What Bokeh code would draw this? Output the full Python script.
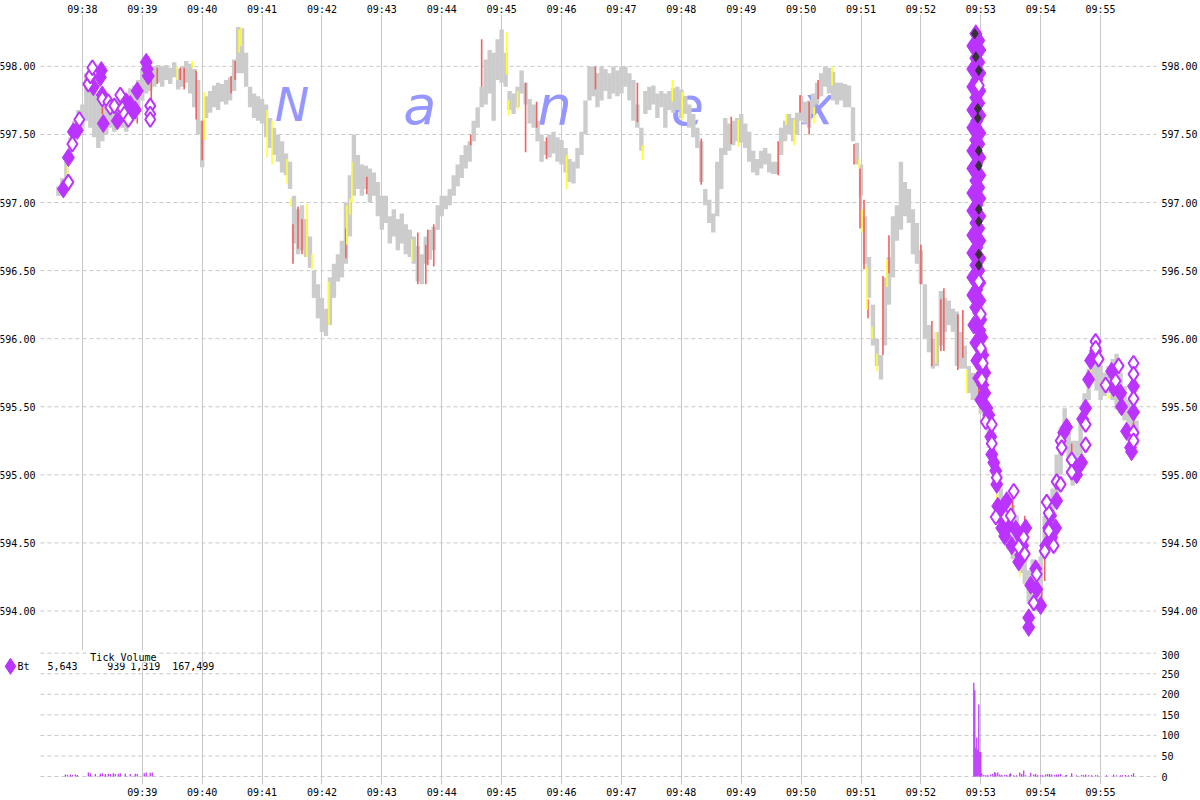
from bokeh.plotting import figure
from bokeh.layouts import column
from bokeh.models import (Range1d, FixedTicker, LinearAxis, CustomJSTickFormatter,
                          PrintfTickFormatter, Label, ColumnDataSource)
from bokeh.core.properties import value
from bokeh.embed import file_html
from bokeh.resources import INLINE

# ---------------- data ----------------
gray_time = [
 "09:37:36","09:37:40","09:37:44","09:37:48","09:37:52","09:37:56","09:38:00",
 "09:38:04","09:38:08","09:38:12","09:38:16","09:38:20","09:38:24","09:38:28","09:38:32","09:38:36","09:38:40","09:38:44","09:38:48","09:38:52","09:38:56","09:39:00",
 "09:39:04","09:39:08","09:39:12","09:39:16","09:39:20","09:39:24","09:39:28","09:39:32","09:39:36","09:39:40","09:39:44","09:39:48","09:39:52","09:39:56","09:40:00",
 "09:40:04","09:40:08","09:40:12","09:40:16","09:40:20","09:40:24","09:40:28","09:40:32","09:40:36","09:40:40","09:40:44","09:40:48","09:40:52","09:40:56","09:41:00",
 "09:41:04","09:41:08","09:41:12","09:41:16","09:41:20","09:41:24","09:41:28","09:41:32","09:41:36","09:41:40","09:41:44","09:41:48","09:41:52","09:41:56","09:42:00","09:42:04","09:42:08",
 "09:42:12","09:42:16","09:42:20","09:42:24","09:42:28","09:42:32","09:42:36","09:42:40","09:42:44","09:42:48","09:42:52","09:42:56","09:43:00",
 "09:43:04","09:43:08","09:43:12","09:43:16","09:43:20","09:43:24","09:43:28","09:43:32","09:43:36","09:43:40","09:43:44","09:43:48","09:43:52","09:43:56","09:44:00",
 "09:44:04","09:44:08","09:44:12","09:44:16","09:44:20","09:44:24","09:44:28","09:44:32","09:44:36","09:44:40","09:44:44","09:44:48","09:44:52","09:44:56","09:45:00",
 "09:45:04","09:45:08","09:45:12","09:45:16","09:45:20","09:45:24","09:45:28","09:45:32","09:45:36","09:45:40","09:45:44","09:45:48","09:45:52","09:45:56","09:46:00",
 "09:46:04","09:46:08","09:46:12","09:46:16","09:46:20","09:46:24","09:46:28","09:46:32","09:46:36","09:46:40","09:46:44","09:46:48","09:46:52","09:46:56","09:47:00",
 "09:47:04","09:47:08","09:47:12","09:47:16","09:47:20","09:47:24","09:47:28","09:47:32","09:47:36","09:47:40","09:47:44","09:47:48","09:47:52","09:47:56","09:48:00",
 "09:48:04","09:48:08","09:48:12","09:48:16","09:48:20","09:48:24","09:48:28","09:48:32","09:48:36","09:48:40","09:48:44","09:48:48","09:48:52","09:48:56","09:49:00",
 "09:49:04","09:49:08","09:49:12","09:49:16","09:49:20","09:49:24","09:49:28","09:49:32","09:49:36","09:49:40","09:49:44","09:49:48","09:49:52","09:49:56","09:50:00",
 "09:50:04","09:50:08","09:50:12","09:50:16","09:50:20","09:50:24","09:50:28","09:50:32","09:50:36","09:50:40","09:50:44","09:50:48","09:50:52","09:50:56","09:51:00",
 "09:51:04","09:51:08","09:51:12","09:51:16","09:51:20","09:51:24","09:51:28","09:51:32","09:51:36","09:51:40","09:51:44","09:51:48","09:51:52","09:51:56","09:52:00",
 "09:52:04","09:52:08","09:52:12","09:52:16","09:52:20","09:52:24","09:52:28","09:52:32","09:52:36","09:52:40","09:52:44","09:52:48","09:52:52","09:52:56","09:53:00",
 "09:53:04","09:53:08","09:53:12","09:53:16","09:53:20","09:53:24","09:53:28","09:53:32","09:53:36","09:53:40","09:53:44","09:53:48","09:53:52","09:53:56","09:54:00",
 "09:54:04","09:54:08","09:54:12","09:54:16","09:54:20","09:54:24","09:54:28","09:54:32","09:54:36","09:54:40","09:54:44","09:54:48","09:54:52","09:54:56","09:55:00",
 "09:55:04","09:55:08","09:55:12","09:55:16","09:55:20","09:55:24","09:55:28","09:55:32","09:55:36",
]
gray_low = [
 597.05,597.05,597.10,597.30,597.45,597.50,597.55,
 597.60,597.55,597.48,597.40,597.45,597.50,597.55,597.52,597.58,597.55,597.52,597.58,597.60,597.65,597.75,
 597.80,597.82,597.85,597.88,597.85,597.90,597.87,597.92,597.83,597.85,597.88,597.80,597.70,597.50,597.26,
 597.62,597.66,597.70,597.68,597.74,597.72,597.75,597.82,597.95,597.95,597.85,597.70,597.62,597.60,597.58,
 597.48,597.40,597.35,597.30,597.22,597.20,597.10,596.70,596.62,596.65,596.60,596.52,596.30,596.15,596.05,596.02,596.10,
 596.30,596.42,596.45,596.55,596.75,597.05,597.10,597.05,597.10,597.00,597.05,596.90,596.80,
 596.85,596.70,596.75,596.65,596.70,596.62,596.60,596.55,596.42,596.40,596.55,596.58,596.65,596.80,596.90,
 596.95,596.98,597.05,597.12,597.18,597.25,597.30,597.45,597.55,597.70,597.72,597.80,597.60,597.90,597.88,
 597.85,597.68,597.65,597.70,597.80,597.72,597.58,597.55,597.45,597.30,597.35,597.33,597.36,597.30,597.28,
 597.22,597.15,597.14,597.25,597.35,597.50,597.75,597.78,597.70,597.75,597.82,597.76,597.80,597.78,597.80,
 597.85,597.75,597.60,597.55,597.38,597.65,597.68,597.72,597.62,597.70,597.55,597.68,597.66,597.68,597.62,
 597.65,597.55,597.48,597.40,597.15,596.98,596.85,596.78,596.90,597.10,597.35,597.38,597.42,597.45,597.44,
 597.40,597.30,597.22,597.20,597.25,597.28,597.22,597.21,597.21,597.35,597.45,597.50,597.45,597.50,597.60,
 597.58,597.55,597.65,597.72,597.78,597.85,597.80,597.75,597.72,597.75,597.70,597.70,597.45,597.28,597.05,
 596.55,596.30,595.95,595.80,595.70,595.95,596.25,596.45,596.72,596.80,596.90,596.85,596.62,596.55,596.40,
 596.00,595.90,595.78,595.80,595.95,596.05,596.10,596.05,595.80,595.78,595.78,595.60,595.55,595.55,595.45,
 595.35,595.20,595.05,594.90,594.70,594.55,594.45,594.38,594.40,594.28,594.20,594.05,594.10,594.00,594.10,
 594.40,594.55,594.65,594.85,595.00,595.20,595.10,594.92,594.95,595.10,595.35,595.55,595.70,595.62,595.55,
 595.58,595.60,595.55,595.48,595.45,595.40,595.25,595.20,595.22,
]
gray_high = [
 597.12,597.18,597.30,597.48,597.60,597.68,597.72,
 597.95,597.90,597.85,597.78,597.75,597.72,597.70,597.74,597.78,597.80,597.78,597.84,597.86,597.90,597.98,
 598.00,597.98,598.00,598.01,598.00,598.01,597.99,598.03,597.98,598.00,598.04,598.02,597.98,597.90,597.60,
 597.78,597.82,597.86,597.88,597.87,597.90,597.92,598.05,598.29,598.28,598.10,597.85,597.80,597.78,597.76,
 597.72,597.62,597.55,597.50,597.45,597.36,597.30,597.05,596.95,596.98,596.88,596.75,596.50,596.40,596.30,596.22,596.45,
 596.55,596.62,596.72,597.00,597.20,597.50,597.35,597.28,597.27,597.25,597.22,597.15,597.05,
 597.05,596.90,596.95,596.88,596.92,596.84,596.80,596.75,596.68,596.62,596.75,596.80,596.82,596.98,597.05,
 597.05,597.10,597.20,597.28,597.35,597.42,597.45,597.60,597.70,597.85,598.05,598.12,598.10,598.20,598.27,
 598.10,597.82,597.80,597.85,597.97,597.88,597.76,597.72,597.60,597.50,597.45,597.50,597.52,597.48,597.46,
 597.40,597.32,597.30,597.40,597.52,597.75,598.00,598.00,597.95,598.00,597.98,597.95,598.00,597.97,598.00,
 598.00,597.95,597.90,597.72,597.55,597.82,597.85,597.86,597.80,597.82,597.80,597.82,597.84,597.85,597.83,
 597.78,597.72,597.65,597.55,597.45,597.10,597.02,596.92,597.30,597.40,597.62,597.58,597.60,597.62,597.65,
 597.58,597.52,597.38,597.32,597.38,597.40,597.36,597.30,597.30,597.55,597.60,597.65,597.62,597.66,597.78,
 597.74,597.75,597.80,597.88,597.95,598.00,597.99,597.96,597.88,597.88,597.87,597.86,597.70,597.44,597.28,
 596.90,596.60,596.25,596.00,595.88,596.45,596.60,596.90,596.98,597.30,597.15,597.10,596.95,596.85,596.65,
 596.40,596.10,596.00,596.05,596.35,596.30,596.28,596.22,596.20,596.05,595.95,595.80,595.75,595.70,595.65,
 595.55,595.48,595.30,595.10,594.90,594.80,594.72,594.78,594.70,594.58,594.52,594.30,594.38,594.25,594.40,
 594.70,594.80,594.90,595.15,595.35,595.49,595.38,595.25,595.25,595.40,595.60,595.78,595.95,595.85,595.80,
 595.75,595.80,595.85,595.89,595.75,595.65,595.55,595.45,595.40,
]

red_time = ["09:38:20","09:38:55","09:39:09","09:39:15","09:39:38","09:39:42","09:39:54","09:40:00","09:40:29","09:40:33",
            "09:41:31","09:41:36","09:41:40","09:42:24","09:42:45","09:43:36","09:43:44","09:43:46","09:43:52","09:44:29",
            "09:44:40","09:45:24","09:45:35","09:45:45","09:46:34","09:47:16","09:48:20","09:48:50","09:49:37","09:49:59",
            "09:50:08","09:50:17","09:50:53","09:50:59","09:51:03","09:51:07","09:51:22","09:51:28","09:52:00","09:52:11",
            "09:52:20","09:52:23","09:52:37","09:52:42","09:52:58","09:53:32","09:53:44","09:54:01","09:54:04","09:54:31","09:55:33"]
red_low = [597.65,597.58,597.75,597.87,597.90,597.83,597.61,597.31,597.80,597.90,
           596.55,596.66,596.62,596.59,597.06,596.40,596.40,596.54,596.53,597.42,
           597.85,597.37,597.55,597.32,597.83,597.59,597.13,597.43,597.20,597.66,
           597.50,597.76,597.28,596.81,596.51,596.15,595.88,596.48,596.40,595.80,
           595.91,595.91,595.77,595.86,595.59,594.74,594.64,594.08,594.22,595.12,595.34]
red_high = [597.70,597.63,597.90,597.99,597.99,597.99,597.97,597.60,597.93,598.04,
            596.84,596.97,596.88,596.81,597.19,596.78,596.69,596.80,596.84,597.50,
            598.20,597.88,597.74,597.48,598.00,597.88,597.47,597.63,597.45,597.79,
            597.74,597.90,597.43,597.25,597.02,596.29,596.46,596.76,596.69,596.13,
            596.29,596.37,596.18,596.21,595.67,594.86,594.70,594.17,594.42,595.23,595.39]

yel_time = ["09:37:45","09:39:35","09:39:50","09:40:02","09:40:37","09:40:39","09:41:05","09:41:10","09:41:25","09:41:29",
            "09:41:45","09:41:50","09:42:07","09:42:25","09:42:28","09:42:30","09:43:30","09:45:05","09:45:07","09:45:16",
            "09:46:05","09:47:21","09:47:51","09:48:01","09:48:57","09:49:45","09:49:53","09:50:13","09:50:31","09:50:58",
            "09:51:01","09:51:06","09:51:11","09:51:16","09:51:26","09:52:15","09:52:46","09:53:16","09:53:39","09:54:00",
            "09:54:50","09:55:08"]
yel_low = [597.20,597.90,597.99,597.46,598.10,598.15,597.33,597.28,597.14,596.97,
           596.60,596.51,596.10,596.69,596.91,597.00,596.57,597.94,597.64,597.68,
           597.10,597.31,597.74,597.61,597.41,597.57,597.42,597.58,597.86,597.25,
           596.78,596.21,596.00,595.76,596.38,595.82,595.60,594.76,594.25,594.00,
           595.75,595.56]
yel_high = [597.28,598.00,598.04,597.81,598.27,598.29,597.68,597.60,597.32,597.03,
            596.99,596.62,596.42,596.98,597.03,597.30,596.73,598.25,597.75,597.82,
            597.35,597.42,597.90,597.81,597.61,597.65,597.61,597.70,598.00,597.32,
            596.95,596.53,596.09,595.89,596.58,596.05,595.77,594.86,594.30,594.08,
            595.81,595.59]

# Bt trades (filled diamonds)
bt_time = ["09:37:41","09:37:46","09:37:51","09:37:55","09:38:11","09:38:18","09:38:19","09:38:20","09:38:21","09:38:35",
           "09:38:44","09:38:48","09:38:50","09:38:53","09:38:55","09:39:04","09:39:05","09:39:06",
           "09:52:55","09:52:58","09:52:52","09:52:59","09:52:55","09:52:58","09:52:52","09:52:59","09:52:56","09:52:52",
           "09:52:59","09:52:55","09:52:58","09:52:52","09:52:59","09:52:56","09:52:52","09:52:59","09:52:55","09:52:58",
           "09:52:52","09:52:59","09:52:56","09:52:52","09:52:59","09:52:55","09:52:58","09:52:52","09:52:59","09:52:56",
           "09:52:52","09:52:59","09:52:55","09:52:58","09:52:52","09:52:59","09:52:56","09:52:52","09:52:59","09:52:55",
           "09:52:58","09:52:52","09:52:59","09:52:56","09:52:52","09:52:59","09:52:55","09:52:58","09:53:00","09:52:53",
           "09:52:59","09:53:01","09:52:55","09:53:00","09:53:02","09:52:56","09:53:01","09:53:04","09:52:58","09:53:02",
           "09:53:04",
           "09:53:00","09:53:06","09:53:08","09:53:10","09:53:11","09:53:13","09:53:15","09:53:16","09:53:17","09:53:20",
           "09:53:21","09:53:23","09:53:24","09:53:26","09:53:28","09:53:31","09:53:35","09:53:38","09:53:40","09:53:40",
           "09:53:42","09:53:45","09:53:48","09:53:48","09:53:50","09:53:55","09:53:56","09:54:00","09:54:05","09:54:08",
           "09:54:10","09:54:11","09:54:15","09:54:16","09:54:23","09:54:26","09:54:36","09:54:38","09:54:41","09:54:42",
           "09:54:45","09:54:48","09:54:50","09:54:55","09:55:11","09:55:13","09:55:20","09:55:21","09:55:26","09:55:30",
           "09:55:31","09:55:33","09:55:33"]
bt_price = [597.10,597.33,597.52,597.53,597.85,597.92,597.97,597.79,597.58,597.60,
            597.74,597.72,597.66,597.68,597.82,598.03,597.98,597.93,
            598.24,598.19,598.15,598.12,598.06,598.03,597.98,597.95,597.90,597.85,
            597.82,597.77,597.73,597.68,597.64,597.60,597.55,597.51,597.46,597.43,
            597.38,597.33,597.29,597.25,597.20,597.16,597.11,597.07,597.03,596.98,
            596.94,596.90,596.85,596.81,596.76,596.72,596.67,596.63,596.59,596.54,
            596.50,596.45,596.41,596.36,596.32,596.28,596.23,596.19,596.14,596.10,
            596.06,596.01,595.97,595.92,595.88,595.84,595.79,595.75,595.71,595.66,
            595.60,
            595.55,595.49,595.44,595.28,595.15,595.09,595.03,594.93,594.77,594.74,
            594.61,594.66,594.55,594.81,594.63,594.48,594.60,594.36,594.54,594.41,
            594.48,594.61,593.95,593.88,594.19,594.31,594.16,594.04,594.48,594.61,
            594.70,594.54,594.61,594.81,595.31,595.35,595.00,595.06,595.09,595.41,
            595.49,595.70,595.84,595.91,595.76,595.64,595.60,595.50,595.32,595.20,
            595.17,595.65,595.46]

# Bt trades drawn hollow
bth_time = ["09:37:46","09:37:50","09:37:57","09:38:06","09:38:08","09:38:10","09:38:20","09:38:26","09:38:28","09:38:32",
            "09:38:38","09:38:40","09:38:42","09:38:46","09:39:08","09:39:08","09:39:08",
            "09:52:58","09:52:58","09:53:00","09:53:00","09:53:02","09:53:01",
            "09:53:05","09:53:11","09:53:11","09:53:16","09:53:33","09:53:15","09:53:25","09:53:30","09:53:43","09:53:38",
            "09:53:44","09:53:56","09:53:53","09:54:04","09:54:08","09:54:13","09:54:08","09:54:06","09:54:16","09:54:20",
            "09:54:20","09:54:21","09:54:31","09:54:31","09:54:45","09:54:45","09:54:55","09:54:55","09:54:58","09:55:05",
            "09:55:18","09:55:15","09:55:33","09:55:33","09:55:33","09:55:33","09:55:33"]
bth_price = [597.15,597.43,597.61,597.87,597.93,597.99,597.76,597.74,597.70,597.71,
             597.79,597.69,597.65,597.61,597.71,597.65,597.61,
             597.86,596.42,596.18,595.93,595.82,595.70,
             595.39,595.37,595.23,594.98,594.88,594.69,594.69,594.70,594.54,594.47,
             594.42,594.27,594.06,594.44,594.59,594.48,594.72,594.80,594.95,594.93,
             595.25,595.20,595.11,595.02,595.37,595.22,595.98,595.93,595.85,595.66,
             595.80,595.69,595.82,595.74,595.56,595.31,595.25]

# other trades (dark small diamonds)
oth_time = ["09:52:54","09:52:55","09:52:58","09:52:57","09:52:57","09:52:58","09:52:58","09:52:58","09:52:58","09:52:58","09:52:58"]
oth_price = [598.24,598.07,597.97,597.69,597.62,597.38,597.27,596.95,596.86,596.62,596.54]

# tick volume per second
vol_time = ["09:37:43","09:37:45","09:37:48","09:37:50","09:37:53","09:37:55","09:38:06","09:38:08","09:38:13","09:38:18",
            "09:38:20","09:38:23","09:38:26","09:38:28","09:38:31","09:38:33","09:38:36","09:38:38","09:38:43","09:38:48",
            "09:38:53","09:38:55","09:39:02","09:39:04","09:39:08","09:39:10",
            "09:52:53","09:52:54","09:52:55","09:52:56","09:52:57","09:52:58","09:52:59","09:53:00",
            "09:53:01","09:53:03","09:53:05","09:53:07","09:53:10","09:53:12","09:53:14","09:53:15","09:53:17","09:53:19",
            "09:53:21","09:53:24","09:53:26","09:53:29","09:53:30","09:53:33","09:53:36","09:53:39","09:53:41","09:53:43",
            "09:53:45","09:53:50","09:53:53","09:53:55","09:53:57","09:54:00","09:54:02","09:54:05","09:54:07","09:54:09",
            "09:54:11","09:54:14","09:54:16","09:54:18","09:54:20","09:54:25","09:54:26","09:54:31","09:54:36","09:54:41",
            "09:54:43","09:54:45","09:54:48","09:54:51","09:54:55","09:54:57","09:55:06","09:55:13","09:55:16","09:55:20",
            "09:55:22","09:55:25","09:55:28","09:55:31","09:55:33"]
vol_ticks = [5,4,5,4,5,4,10,8,6,7,
             8,6,7,6,8,6,7,8,7,6,
             7,6,8,10,9,10,
             228,210,70,95,65,175,60,60,
             8,4,3,4,5,6,11,8,10,5,
             4,4,4,6,8,3,3,10,6,15,
             3,9,5,6,3,3,3,5,6,6,
             5,4,5,5,6,3,4,8,3,4,
             3,5,3,3,3,3,3,5,3,3,
             3,4,3,4,8]

price_ticks = [594.0, 594.5, 595.0, 595.5, 596.0, 596.5, 597.0, 597.5, 598.0]
vol_axis_ticks = [0, 50, 100, 150, 200, 250, 300]
top_minutes = list(range(38, 56))
bottom_minutes = list(range(39, 56))

legend_texts = ["Bt", "5,643", "939", "1,319", "167,499"]

wm_letters = ["N", "a", "n", "e", "x"]
wm_time = ["09:41:30", "09:43:38", "09:45:53", "09:48:06", "09:50:17"]
wm_size = ["46px", "54px", "54px", "54px", "54px"]


def tm(s):
    h, m, sec = (int(v) for v in s.split(":"))
    return (h - 9) * 60 + m + sec / 60.0


def tms(lst):
    return [tm(s) for s in lst]


GRAY = "#cccccc"
RED = "#f06262"
YEL = "#ffff33"
PURP = "#bb33ff"
DARK = "#333333"
GRID = "#c8c8c8"
FONT = "DejaVu Sans Mono"

TOTAL_W = 1200
R = 42
W = TOTAL_W - R            # frame spans from the left page edge
TOP, BOT = 12, 15
H1, H2 = 638, 135
x_start = tm("09:36:38")   # page x = 0
grid_start = tm("09:37:18")  # where the grid starts (page x = 40)
xr = Range1d(x_start, x_start + W / 60.0)
x_end = x_start + W / 60.0

time_fmt = CustomJSTickFormatter(code="""
const m = Math.round(tick);
return '09:' + (m < 10 ? '0' + m : String(m));
""")


def style_axis(ax, standoff=3):
    ax.axis_line_color = None
    ax.major_tick_line_color = None
    ax.minor_tick_line_color = None
    ax.major_tick_out = 0
    ax.major_tick_in = 0
    ax.minor_tick_out = 0
    ax.minor_tick_in = 0
    ax.major_label_text_font = FONT
    ax.major_label_text_font_size = "10px"
    ax.major_label_text_color = "black"
    ax.major_label_standoff = standoff


def hgrid(fig, ticks):
    fig.segment(x0=[grid_start] * len(ticks), y0=ticks, x1=[x_end] * len(ticks), y1=ticks,
                line_color=GRID, line_width=1, line_dash="4 3")


# ---------------- price panel ----------------
p = figure(width=TOTAL_W, height=TOP + H1, x_range=xr, y_range=Range1d(593.71, 598.381),
           x_axis_location="above", y_axis_location="right",
           output_backend="svg", toolbar_location=None,
           min_border_left=0, min_border_right=R, min_border_top=TOP, min_border_bottom=0)
p.outline_line_color = None
p.background_fill_color = "white"
p.border_fill_color = "white"

p.xaxis.ticker = FixedTicker(ticks=top_minutes)
p.xaxis.formatter = time_fmt
p.yaxis.ticker = FixedTicker(ticks=price_ticks)
p.yaxis.formatter = PrintfTickFormatter(format="%.2f")
for ax in p.xaxis:
    style_axis(ax, 0)
for ax in p.yaxis:
    style_axis(ax, 5)

p.xgrid.ticker = FixedTicker(ticks=top_minutes)
p.xgrid.grid_line_color = GRID
p.xgrid.grid_line_width = 1
p.ygrid.visible = False
hgrid(p, price_ticks)

# left-hand price labels (mirror of the right axis)
p.text(x=[tm("09:37:13")] * len(price_ticks), y=price_ticks,
       text=["%.2f" % t for t in price_ticks], text_font=value(FONT), text_font_size="10px",
       text_color="black", text_align="right", text_baseline="middle")

# watermark
wm_src = ColumnDataSource(dict(x=tms(wm_time), y=[597.715] * len(wm_letters), text=wm_letters, fs=wm_size))
p.text(x="x", y="y", text="text", source=wm_src, text_font=value("DejaVu Sans"),
       text_font_style="italic", text_font_size="fs", text_color="#9696ff",
       text_align="center", text_baseline="alphabetic")

n = min(len(gray_time), len(gray_low), len(gray_high))
p.vbar(x=tms(gray_time[:n]), bottom=gray_low[:n], top=gray_high[:n], width=4.4 / 60.0,
       fill_color=GRAY, line_color=None)

rt = tms(red_time)
p.segment(x0=rt, y0=red_low, x1=rt, y1=red_high, line_color=RED, line_width=1.6)
yt = tms(yel_time)
p.segment(x0=yt, y0=yel_low, x1=yt, y1=yel_high, line_color=YEL, line_width=1.6)

p.scatter(x=tms(bt_time), y=bt_price, marker="diamond", size=18,
          fill_color=PURP, line_color=PURP, line_width=1)
p.scatter(x=tms(bth_time), y=bth_price, marker="diamond", size=15,
          fill_color="white", line_color=PURP, line_width=2)
p.scatter(x=tms(oth_time), y=oth_price, marker="diamond", size=10,
          fill_color=DARK, line_color=DARK)

# ---------------- volume panel ----------------
v = figure(width=TOTAL_W, height=H2 + BOT, x_range=xr, y_range=Range1d(-19.3, 306.5),
           x_axis_location="below", y_axis_location="right",
           output_backend="svg", toolbar_location=None,
           min_border_left=0, min_border_right=R, min_border_top=0, min_border_bottom=BOT)
v.outline_line_color = None
v.background_fill_color = "white"
v.border_fill_color = "white"
v.xaxis.ticker = FixedTicker(ticks=bottom_minutes)
v.xaxis.formatter = time_fmt
v.yaxis.ticker = FixedTicker(ticks=vol_axis_ticks)
for ax in v.xaxis:
    style_axis(ax, 2)
for ax in v.yaxis:
    style_axis(ax, 5)
v.xgrid.ticker = FixedTicker(ticks=bottom_minutes)
v.xgrid.grid_line_color = GRID
v.ygrid.visible = False
hgrid(v, vol_axis_ticks)

v.vbar(x=tms(vol_time), top=vol_ticks, bottom=0, width=1.25 / 60.0,
       fill_color=PURP, line_color=None)

# legend-like row
v.scatter(x=[tm("09:36:48")], y=[268], marker="diamond", size=16, fill_color=PURP, line_color=PURP)
leg_t = ["09:36:55", "09:37:25", "09:38:25", "09:38:48", "09:39:30"]
for tx, lt in zip(legend_texts, leg_t):
    v.add_layout(Label(x=tm(lt), y=268, text=tx, text_font=FONT, text_font_size="10px",
                       text_color="black", text_align="left", text_baseline="middle"))
v.add_layout(Label(x=tm("09:38:08"), y=290, text="Tick Volume", text_font=FONT, text_font_size="10px",
                   text_color="black", text_align="left", text_baseline="middle",
                   background_fill_color="white"))

layout = column(p, v, spacing=0)
open("out.html", "w").write(file_html(layout, INLINE))
